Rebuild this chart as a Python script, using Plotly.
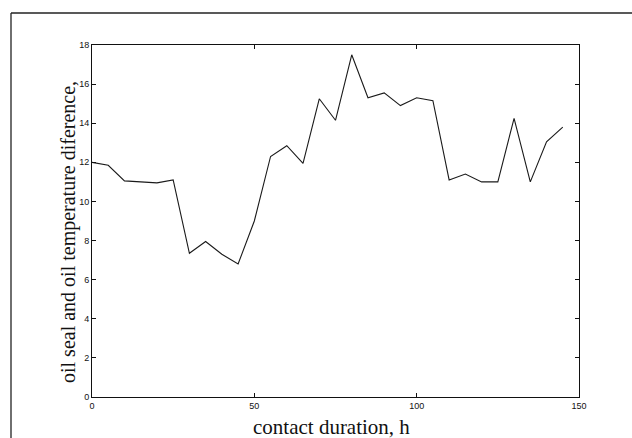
import plotly.graph_objects as go

hours = [0, 5, 10, 20, 25, 30, 35, 40, 45, 50, 55, 60, 65, 70, 75, 80, 85, 90,
         95, 100, 105, 110, 115, 120, 125, 130, 135, 140, 145]
temp_diff = [12.0, 11.85, 11.05, 10.95, 11.1, 7.35, 7.95, 7.3, 6.8, 9.0, 12.3, 12.85,
             11.95, 15.25, 14.15, 17.5, 15.3, 15.55, 14.9, 15.3, 15.15, 11.1, 11.4,
             11.0, 11.0, 14.25, 11.0, 13.05, 13.8]
x_ticks = [0, 50, 100, 150]
y_ticks = [0, 2, 4, 6, 8, 10, 12, 14, 16, 18]

W, H = 632, 438
ml, mr, mt, mb = 92, 53, 45, 41
pw, ph = W - ml - mr, H - mt - mb

fig = go.Figure()
fig.add_trace(go.Scatter(x=hours, y=temp_diff, mode="lines",
                         line=dict(color="#1a1a1a", width=1.1),
                         showlegend=False, hoverinfo="skip"))

axis_common = dict(showgrid=False, zeroline=False, showline=True, linecolor="#111",
                   linewidth=1, mirror="ticks", ticks="inside", ticklen=4,
                   tickcolor="#111", tickwidth=1,
                   tickfont=dict(family="Liberation Sans, Arial", size=9, color="#111"))

fig.update_xaxes(range=[0, 150], tickvals=x_ticks, **axis_common)
fig.update_yaxes(range=[0, 18], tickvals=y_ticks, **axis_common)

def px_x(p):
    return (p - ml) / pw

def px_y(p):
    return 1 - (p - mt) / ph

fig.update_layout(
    width=W, height=H,
    margin=dict(l=ml, r=mr, t=mt, b=mb, pad=0),
    paper_bgcolor="white", plot_bgcolor="white",
    shapes=[
        dict(type="line", xref="paper", yref="paper", x0=px_x(11), x1=px_x(W + 5),
             y0=px_y(13), y1=px_y(13), line=dict(color="#222", width=1.3)),
        dict(type="line", xref="paper", yref="paper", x0=px_x(11), x1=px_x(11),
             y0=px_y(13), y1=px_y(H + 5), line=dict(color="#222", width=1.3)),
    ],
    annotations=[
        dict(text="contact duration, h", xref="paper", yref="paper",
             x=px_x(331), y=px_y(427), xanchor="center", yanchor="middle",
             showarrow=False,
             font=dict(family="Liberation Serif, Times New Roman", size=21, color="#111")),
        dict(text="oil seal and oil temperature diference,", xref="paper", yref="paper",
             x=px_x(68), y=px_y(232), xanchor="center", yanchor="middle",
             textangle=-90, showarrow=False,
             font=dict(family="Liberation Serif, Times New Roman", size=20, color="#111")),
    ],
)

fig.write_html("out.html")
